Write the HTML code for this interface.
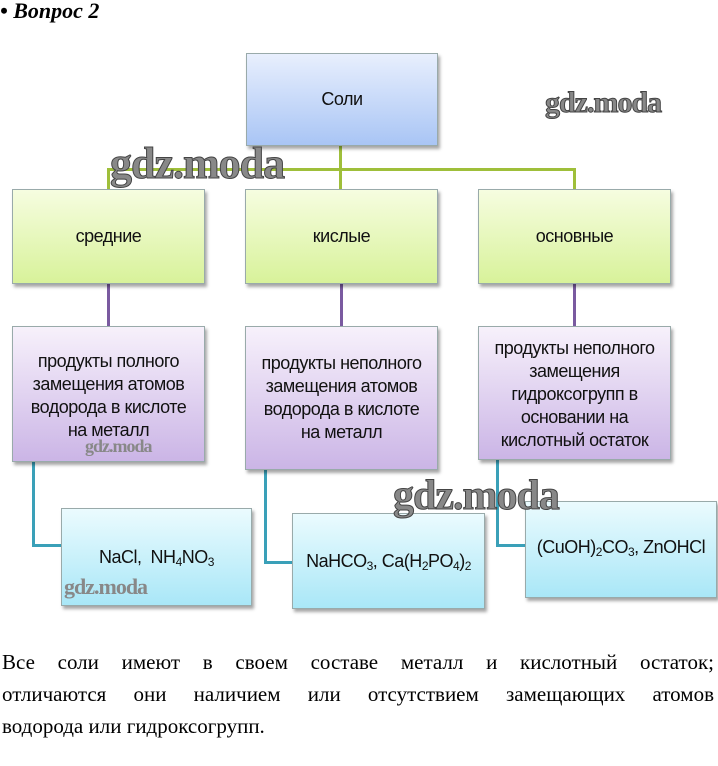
<!DOCTYPE html>
<html><head><meta charset="utf-8"><style>
body{margin:0;width:718px;height:766px;background:#fff;position:relative;overflow:hidden;font-family:"Liberation Sans",sans-serif}
.b{position:absolute;box-sizing:border-box;border:1px solid #9aa;box-shadow:2px 3px 3px rgba(0,0,0,.35);display:flex;align-items:center;justify-content:center;text-align:center;font-size:18px;line-height:23px;color:#111;white-space:nowrap;letter-spacing:-0.5px}
.blue{background:linear-gradient(#e8effd,#a9c5f5)}
.green{background:linear-gradient(#f6fde0,#d8f29a)}
.pur{background:linear-gradient(#f7f1fb,#cbb5e6)}
.cyan{background:linear-gradient(#ebfbfe,#a9e7f7)}
.l{position:absolute}
s{text-decoration:none;font-size:12px;position:relative;top:5px}
.wm{position:absolute;font-family:"Liberation Serif",serif;font-weight:bold;color:#888;-webkit-text-stroke:1px #444;letter-spacing:-1px}
.p{position:absolute;left:2px;width:712px;font-family:"Liberation Serif",serif;font-size:21px;line-height:32px;text-align:justify;text-align-last:justify;white-space:nowrap}
</style></head><body>
<div style="position:absolute;left:0;top:-2px;font-family:'Liberation Serif',serif;font-weight:bold;font-style:italic;font-size:22px">• Вопрос 2</div>
<div class="l" style="left:339px;top:146px;width:3px;height:43px;background:#9fbf3a"></div>
<div class="l" style="left:107px;top:168px;width:469px;height:3px;background:#9fbf3a"></div>
<div class="l" style="left:107px;top:168px;width:3px;height:21px;background:#9fbf3a"></div>
<div class="l" style="left:573px;top:168px;width:3px;height:21px;background:#9fbf3a"></div>
<div class="l" style="left:107px;top:284px;width:3px;height:42px;background:#7a5aa0"></div>
<div class="l" style="left:340px;top:284px;width:3px;height:42px;background:#7a5aa0"></div>
<div class="l" style="left:573px;top:284px;width:3px;height:42px;background:#7a5aa0"></div>
<div class="l" style="left:32px;top:462px;width:3px;height:85px;background:#3aa0b8"></div>
<div class="l" style="left:32px;top:544px;width:30px;height:3px;background:#3aa0b8"></div>
<div class="l" style="left:264px;top:470px;width:3px;height:94px;background:#3aa0b8"></div>
<div class="l" style="left:264px;top:561px;width:30px;height:3px;background:#3aa0b8"></div>
<div class="l" style="left:496px;top:460px;width:3px;height:87px;background:#3aa0b8"></div>
<div class="l" style="left:496px;top:544px;width:30px;height:3px;background:#3aa0b8"></div>
<div class="b blue" style="left:246px;top:53px;width:192px;height:93px">Соли</div>
<div class="b green" style="left:12px;top:189px;width:193px;height:95px">средние</div>
<div class="b green" style="left:245px;top:189px;width:193px;height:95px">кислые</div>
<div class="b green" style="left:478px;top:189px;width:193px;height:95px">основные</div>
<div class="b pur" style="left:12px;top:326px;width:193px;height:136px;align-items:flex-start;padding-top:23px">продукты полного<br>замещения атомов<br>водорода в кислоте<br>на металл</div>
<div class="b pur" style="left:245px;top:326px;width:193px;height:144px;align-items:flex-start;padding-top:25px">продукты неполного<br>замещения атомов<br>водорода в кислоте<br>на металл</div>
<div class="b pur" style="left:478px;top:326px;width:193px;height:134px;align-items:flex-start;padding-top:10px">продукты неполного<br>замещения<br>гидроксогрупп в<br>основании на<br>кислотный остаток</div>
<div class="b cyan" style="left:61px;top:508px;width:191px;height:98px">NaCl,&nbsp; NH<s>4</s>NO<s>3</s></div>
<div class="b cyan" style="left:292px;top:513px;width:193px;height:96px">NaHCO<s>3</s>, Ca(H<s>2</s>PO<s>4</s>)<s>2</s></div>
<div class="b cyan" style="left:525px;top:501px;width:192px;height:97px;align-items:flex-start;padding-top:34px">(CuOH)<s>2</s>CO<s>3</s>, ZnOHCl</div>
<div class="wm" style="left:110px;top:138px;font-size:44px">gdz.moda</div>
<div class="wm" style="left:545px;top:86px;font-size:30px">gdz.moda</div>
<div class="wm" style="left:393px;top:472px;font-size:42px">gdz.moda</div>
<div class="wm" style="left:85px;top:436px;font-size:18px;-webkit-text-stroke:0">gdz.moda</div>
<div class="wm" style="left:64px;top:574px;font-size:22px;-webkit-text-stroke:0">gdz.moda</div>
<div class="p" style="top:646px;white-space:normal">Все соли имеют в своем составе металл и кислотный остаток;</div>
<div class="p" style="top:678px;white-space:normal">отличаются они наличием или отсутствием замещающих атомов</div>
<div class="p" style="top:710px;text-align-last:left">водорода или гидроксогрупп.</div>
</body></html>
